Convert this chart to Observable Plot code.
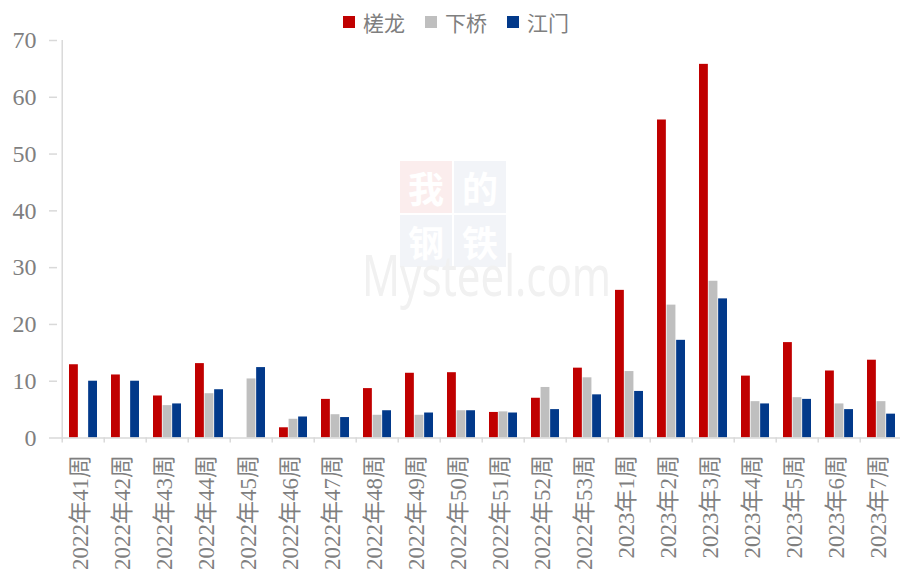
<!DOCTYPE html>
<html>
<head>
<meta charset="utf-8">
<script src="https://cdn.jsdelivr.net/npm/d3@7"></script>
<script src="https://cdn.jsdelivr.net/npm/@observablehq/plot@0.6"></script>
<style>
  html, body { margin: 0; padding: 0; background: #fff; overflow: hidden; width: 900px; height: 571px; }
  #wrap { position: relative; width: 900px; height: 571px; }
  #chart { position: absolute; left: 0; top: 0; z-index: 1; }
  #legend { position: absolute; top: 7px; left: 0; width: 900px; z-index: 2; display: flex; justify-content: center;
    font-family: "Liberation Serif", "Noto Sans CJK SC", serif; font-size: 21px; color: #7f7f7f; padding-left: 12px; box-sizing: border-box; }
  .li { display: flex; align-items: center; margin: 0 10px; }
  .sw { width: 12px; height: 12px; margin-right: 8px; }
  #wm { position: absolute; left: 0; top: 0; z-index: 0; width: 900px; height: 571px; }
  .sq { position: absolute; width: 52px; height: 52px; background: #f2f4f8; }
  .sq span { position: absolute; left: 7px; top: 7px; width: 38px; height: 38px; color: #fff; font-family: "Noto Sans CJK SC", sans-serif;
    font-weight: 700; font-size: 36px; line-height: 38px; text-align: center; }
  .ms { position: absolute; left: 362px; top: 258px; font-family: "Noto Sans", sans-serif; font-size: 56px; line-height: 32px;
    color: #f1f1f1; transform: scaleX(0.75); transform-origin: 0 0; white-space: nowrap; }
</style>
</head>
<body>
<div id="wrap">
  <div id="wm">
    <div class="sq" style="left:400px;top:161px;background:#fbeded;"><span>我</span></div>
    <div class="sq" style="left:454px;top:161px;"><span>的</span></div>
    <div class="sq" style="left:400px;top:215px;"><span>钢</span></div>
    <div class="sq" style="left:454px;top:215px;"><span>铁</span></div>
    <div class="ms">Mysteel.com</div>
  </div>
  <div id="chart"></div>
  <div id="legend"></div>
</div>
<script>
const categories = ["2022年41周","2022年42周","2022年43周","2022年44周","2022年45周","2022年46周","2022年47周",
  "2022年48周","2022年49周","2022年50周","2022年51周","2022年52周","2022年53周",
  "2023年1周","2023年2周","2023年3周","2023年4周","2023年5周","2023年6周","2023年7周"];
const seriesNames = ["槎龙", "下桥", "江门"];
const chalong  = [12.9, 11.1, 7.4, 13.1, 0, 1.8, 6.8, 8.7, 11.4, 11.5, 4.5, 7.0, 12.3, 26.0, 56.0, 65.8, 10.9, 16.8, 11.8, 13.7];
const xiaqiao  = [0, 0, 5.7, 7.8, 10.4, 3.3, 4.1, 4.0, 4.0, 4.8, 4.6, 8.9, 10.6, 11.7, 23.4, 27.6, 6.4, 7.1, 6.0, 6.4];
const jiangmen = [10.0, 10.0, 6.0, 8.5, 12.4, 3.7, 3.6, 4.8, 4.4, 4.8, 4.4, 5.0, 7.6, 8.2, 17.2, 24.5, 6.0, 6.8, 5.0, 4.2];
const yTicks = [0, 10, 20, 30, 40, 50, 60, 70];
const colors = ["#C00000", "#BFBFBF", "#02398A"];

const seriesValues = [chalong, xiaqiao, jiangmen];
const rows = [];
seriesValues.forEach((vals, s) => vals.forEach((v, i) => rows.push({cat: categories[i], series: seriesNames[s], value: v})));

const x0 = 56.7, x1 = 907.8;
const pIn = 0.325;
const step = (x1 - x0) / categories.length;
const bw = step * (1 - pIn);
const sub = bw / 3;
const font = '"Liberation Serif", "Noto Sans CJK SC", serif';

const barFor = (s) => Plot.barY(rows.filter(d => d.series === seriesNames[s]), {
  x: "cat", y: "value", fill: colors[s],
  insetLeft: s * sub, insetRight: (2 - s) * sub
});

const chart = Plot.plot({
  width: 900, height: 571,
  marginTop: 40, marginBottom: 133.5, marginLeft: 57, marginRight: 0,
  style: {background: "transparent", fontFamily: font, color: "#7f7f7f", overflow: "hidden"},
  x: {domain: categories, range: [x0, x1], paddingInner: pIn, paddingOuter: pIn / 2},
  y: {domain: [0, 70]},
  marks: [
    barFor(0), barFor(1), barFor(2),
    Plot.ruleY([0], {stroke: "#d9d9d9", strokeWidth: 1.5}),
    Plot.ruleX([categories[0]], {y1: 0, y2: 70, dx: -step / 2, stroke: "#d9d9d9", strokeWidth: 1.5}),
    Plot.axisY({ticks: yTicks, tickSize: 8, tickPadding: 13, fontSize: 24, stroke: "#d9d9d9", strokeWidth: 1.5, fill: "#7f7f7f", label: null}),
    Plot.axisX({tickSize: 5, text: null, dx: -step / 2, stroke: "#d9d9d9", strokeWidth: 1.5, label: null}),
    Plot.axisX({tickSize: 0, tickPadding: 17, tickRotate: -90, fontSize: 23, dx: -3, fill: "#7f7f7f", label: null})
  ]
});
document.getElementById("chart").appendChild(chart);

const legend = document.getElementById("legend");
seriesNames.forEach((n, i) => {
  const d = document.createElement("div");
  d.className = "li";
  d.innerHTML = `<span class="sw" style="background:${colors[i]}"></span><span>${n}</span>`;
  legend.appendChild(d);
});
</script>
</body>
</html>
